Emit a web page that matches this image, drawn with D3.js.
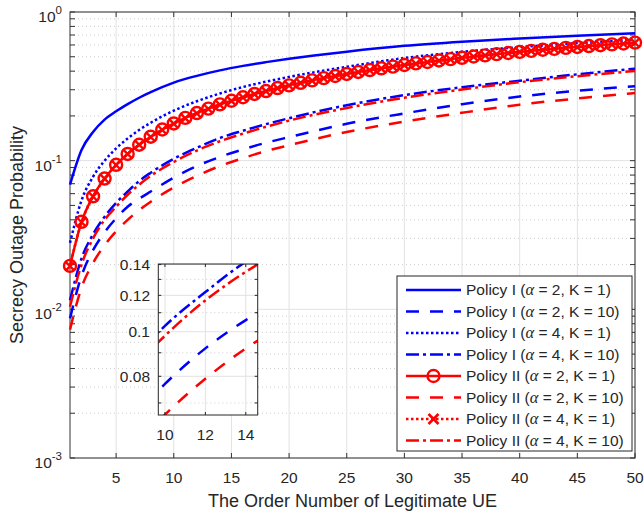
<!DOCTYPE html>
<html><head><meta charset="utf-8">
<script src="https://cdn.jsdelivr.net/npm/d3@7"></script>
<style>body{margin:0;background:#fff}</style>
</head><body>
<svg id="chart" width="644" height="515"></svg>
<script>
// ---- data ----
const xLine = [1,2,3,4,5,6,7,8,10,12,14,16,18,20,25,30,35,40,45,50];
const xMark = [1,2,3,4,5,6,7,8,9,10,11,12,13,14,15,16,17,18,19,20,21,22,23,24,25,26,27,28,29,30,31,32,33,34,35,36,37,38,39,40,41,42,43,44,45,46,47,48,49,50];
const policyI_a2_K1  = [0.069,0.118,0.156,0.189,0.215,0.240,0.265,0.289,0.335,0.372,0.405,0.434,0.460,0.485,0.541,0.592,0.631,0.663,0.692,0.719];
const policyI_a2_K10 = [0.0087,0.0168,0.025,0.033,0.041,0.049,0.0555,0.062,0.077,0.092,0.106,0.119,0.132,0.144,0.177,0.208,0.240,0.270,0.295,0.317];
const policyI_a4_K1  = [0.028,0.054,0.078,0.100,0.121,0.141,0.161,0.180,0.217,0.251,0.283,0.313,0.340,0.366,0.428,0.490,0.540,0.580,0.618,0.652];
const policyI_a4_K10 = [0.0115,0.022,0.032,0.042,0.052,0.062,0.073,0.083,0.103,0.122,0.142,0.159,0.176,0.193,0.236,0.276,0.312,0.345,0.381,0.416];
const policyII_a2_K1 = [0.0196,0.0388,0.0576,0.0758,0.0938,0.111,0.128,0.145,0.162,0.178,0.194,0.209,0.224,0.239,0.253,0.267,0.281,0.294,0.308,0.321,0.334,0.347,0.359,0.371,0.383,0.395,0.407,0.418,0.429,0.440,0.451,0.461,0.472,0.482,0.492,0.502,0.511,0.521,0.530,0.539,0.548,0.557,0.565,0.574,0.582,0.590,0.598,0.606,0.614,0.622];
const policyII_a2_K10 = [0.0073,0.0140,0.0205,0.027,0.0335,0.040,0.0465,0.053,0.066,0.079,0.092,0.104,0.116,0.127,0.156,0.183,0.210,0.238,0.262,0.285];
const policyII_a4_K1 = [0.0195,0.0386,0.0573,0.0755,0.0934,0.111,0.128,0.144,0.161,0.177,0.193,0.208,0.223,0.238,0.252,0.266,0.280,0.293,0.307,0.320,0.333,0.345,0.358,0.370,0.382,0.394,0.405,0.417,0.428,0.439,0.449,0.460,0.470,0.480,0.490,0.500,0.510,0.519,0.528,0.538,0.546,0.555,0.564,0.572,0.580,0.589,0.597,0.604,0.612,0.620];
const policyII_a4_K10 = [0.0104,0.020,0.030,0.040,0.049,0.059,0.069,0.079,0.098,0.117,0.135,0.152,0.169,0.186,0.226,0.265,0.301,0.337,0.370,0.401];

const xTicks = [5,10,15,20,25,30,35,40,45,50];
const yTickExps = [-3,-2,-1,0];
const insetXTicks = [10,12,14];
const insetYTicks = [0.08,0.1,0.12,0.14];
const insetYMinor = [0.07,0.09,0.11,0.13];
const legendPolicy = ["I","I","I","I","II","II","II","II"];
const legendAlpha = [2,2,4,4,2,2,4,4];
const legendK = [1,10,1,10,1,10,1,10];
const xLabel = "The Order Number of Legitimate UE";
const yLabel = "Secrecy Outage Probability";

// series styles
const BLUE = "#0000ff", RED = "#ff0000";
const series = [
  {x: xLine, y: policyI_a2_K1,  color: BLUE, dash: null,        marker: null},
  {x: xLine, y: policyI_a2_K10, color: BLUE, dash: "13,11",     marker: null},
  {x: xLine, y: policyI_a4_K1,  color: BLUE, dash: "2.5,2.5",   marker: null},
  {x: xLine, y: policyI_a4_K10, color: BLUE, dash: "13,4,3,4",  marker: null},
  {x: xMark, y: policyII_a2_K1, color: RED,  dash: null,        marker: "o"},
  {x: xLine, y: policyII_a2_K10,color: RED,  dash: "13,11",     marker: null},
  {x: xMark, y: policyII_a4_K1, color: RED,  dash: "2.5,2.5",   marker: "x"},
  {x: xLine, y: policyII_a4_K10,color: RED,  dash: "13,4,3,4",  marker: null}
];

const svg = d3.select("#chart");
const FONT = "'Liberation Sans', Arial, Helvetica, sans-serif";
const TXT = "#262626";
const L = 70, R = 635, T = 12, B = 458;
const LW = 2.5;

const x = d3.scaleLinear().domain([1,50]).range([L,R]);
const y = d3.scaleLog().domain([1e-3,1]).range([B,T]);

// grid
const g = svg.append("g");
const minorVals = [];
for (let e = -3; e < 0; e++) for (let m = 2; m <= 9; m++) minorVals.push(m*Math.pow(10,e));
g.selectAll("line.minor").data(minorVals).enter().append("line")
  .attr("x1",L).attr("x2",R).attr("y1",d=>y(d)).attr("y2",d=>y(d))
  .attr("stroke","#b8b8b8").attr("stroke-width",0.7).attr("stroke-dasharray","1,3");
g.selectAll("line.gx").data(xTicks).enter().append("line")
  .attr("x1",d=>x(d)).attr("x2",d=>x(d)).attr("y1",T).attr("y2",B)
  .attr("stroke","#e2e2e2").attr("stroke-width",1);
g.selectAll("line.gy").data(yTickExps).enter().append("line")
  .attr("x1",L).attr("x2",R).attr("y1",d=>y(Math.pow(10,d))).attr("y2",d=>y(Math.pow(10,d)))
  .attr("stroke","#e2e2e2").attr("stroke-width",1);

// axes box & ticks
const ax = svg.append("g");
ax.append("rect").attr("x",L).attr("y",T).attr("width",R-L).attr("height",B-T)
  .attr("fill","none").attr("stroke","#333").attr("stroke-width",1);
const TL = 5;
xTicks.forEach(t => {
  ax.append("line").attr("x1",x(t)).attr("x2",x(t)).attr("y1",B).attr("y2",B-TL).attr("stroke","#333");
  ax.append("line").attr("x1",x(t)).attr("x2",x(t)).attr("y1",T).attr("y2",T+TL).attr("stroke","#333");
  ax.append("text").attr("x",x(t)).attr("y",483).attr("text-anchor","middle")
    .attr("font-family",FONT).attr("font-size",15.5).attr("fill",TXT).text(t);
});
minorVals.concat(yTickExps.map(e=>Math.pow(10,e))).forEach(v => {
  ax.append("line").attr("x1",L).attr("x2",L+TL).attr("y1",y(v)).attr("y2",y(v)).attr("stroke","#333");
  ax.append("line").attr("x1",R).attr("x2",R-TL).attr("y1",y(v)).attr("y2",y(v)).attr("stroke","#333");
});
yTickExps.forEach(e => {
  const ty = y(Math.pow(10,e));
  const t = ax.append("text").attr("x",62).attr("y",ty+10).attr("text-anchor","end")
    .attr("font-family",FONT).attr("font-size",15.5).attr("fill",TXT);
  t.append("tspan").text("10");
  t.append("tspan").attr("dy",-8).attr("font-size",11.5).text(e === 0 ? "0" : ("-" + Math.abs(e)));
});

// labels
svg.append("text").attr("x",(L+R)/2).attr("y",507).attr("text-anchor","middle")
  .attr("font-family",FONT).attr("font-size",18).attr("fill",TXT).text(xLabel);
svg.append("text").attr("transform",`translate(23,${(T+B)/2}) rotate(-90)`).attr("text-anchor","middle")
  .attr("font-family",FONT).attr("font-size",18).attr("fill",TXT).text(yLabel);

// curves
function drawSeries(parent, xs, ys, clipId) {
  const line = d3.line().x(d=>xs(d[0])).y(d=>ys(d[1])).curve(d3.curveMonotoneX);
  const grp = parent.append("g");
  if (clipId) grp.attr("clip-path",`url(#${clipId})`);
  series.forEach(s => {
    const pts = s.x.map((v,i)=>[v,s.y[i]]);
    grp.append("path").attr("d",line(pts)).attr("fill","none")
      .attr("stroke",s.color).attr("stroke-width",LW)
      .attr("stroke-dasharray",s.dash).attr("stroke-linejoin","round");
    if (s.marker === "o") {
      grp.selectAll(null).data(pts).enter().append("circle")
        .attr("cx",d=>xs(d[0])).attr("cy",d=>ys(d[1])).attr("r",6)
        .attr("fill","none").attr("stroke",s.color).attr("stroke-width",2.4);
    } else if (s.marker === "x") {
      const h = 4.4;
      grp.selectAll(null).data(pts).enter().append("path")
        .attr("d",d=>{const cx=xs(d[0]), cy=ys(d[1]);
          return `M${cx-h},${cy-h}L${cx+h},${cy+h}M${cx-h},${cy+h}L${cx+h},${cy-h}`;})
        .attr("fill","none").attr("stroke",s.color).attr("stroke-width",2.4);
    }
  });
}
drawSeries(svg, x, y, null);

// inset
const IL = 158.3, IR = 257.7, IT = 264, IB = 415;
const xi = d3.scaleLinear().domain([9.67,14.59]).range([IL,IR]);
const yi = d3.scaleLog().domain([0.0659,0.1404]).range([IB,IT]);
svg.append("defs").append("clipPath").attr("id","insetClip")
  .append("rect").attr("x",IL).attr("y",IT).attr("width",IR-IL).attr("height",IB-IT);
const ins = svg.append("g");
ins.append("rect").attr("x",IL).attr("y",IT).attr("width",IR-IL).attr("height",IB-IT).attr("fill","#fff");
ins.selectAll(null).data(insetYMinor).enter().append("line")
  .attr("x1",IL).attr("x2",IR).attr("y1",d=>yi(d)).attr("y2",d=>yi(d))
  .attr("stroke","#b8b8b8").attr("stroke-width",0.7).attr("stroke-dasharray","1,3");
ins.selectAll(null).data(insetYTicks).enter().append("line")
  .attr("x1",IL).attr("x2",IR).attr("y1",d=>yi(d)).attr("y2",d=>yi(d))
  .attr("stroke","#e2e2e2").attr("stroke-width",1);
ins.selectAll(null).data(insetXTicks).enter().append("line")
  .attr("x1",d=>xi(d)).attr("x2",d=>xi(d)).attr("y1",IT).attr("y2",IB)
  .attr("stroke","#e2e2e2").attr("stroke-width",1);
drawSeries(ins, xi, yi, "insetClip");
ins.append("rect").attr("x",IL).attr("y",IT).attr("width",IR-IL).attr("height",IB-IT)
  .attr("fill","none").attr("stroke","#262626").attr("stroke-width",1);
insetXTicks.forEach(t => {
  ins.append("line").attr("x1",xi(t)).attr("x2",xi(t)).attr("y1",IB).attr("y2",IB-3).attr("stroke","#262626");
  ins.append("line").attr("x1",xi(t)).attr("x2",xi(t)).attr("y1",IT).attr("y2",IT+3).attr("stroke","#262626");
  ins.append("text").attr("x",xi(t)).attr("y",440).attr("text-anchor","middle")
    .attr("font-family",FONT).attr("font-size",15.5).attr("fill",TXT).text(t);
});
insetYTicks.concat(insetYMinor).forEach(t => {
  ins.append("line").attr("x1",IL).attr("x2",IL+3).attr("y1",yi(t)).attr("y2",yi(t)).attr("stroke","#262626");
  ins.append("line").attr("x1",IR).attr("x2",IR-3).attr("y1",yi(t)).attr("y2",yi(t)).attr("stroke","#262626");
});
insetYTicks.forEach(t => {
  ins.append("text").attr("x",150).attr("y",yi(t)+5.5).attr("text-anchor","end")
    .attr("font-family",FONT).attr("font-size",15.5).attr("fill",TXT).text(t);
});

// legend
const lg = svg.append("g");
const LX0 = 397, LX1 = 632, LY0 = 276, LY1 = 451;
lg.append("rect").attr("x",LX0).attr("y",LY0).attr("width",LX1-LX0).attr("height",LY1-LY0)
  .attr("fill","#fff").attr("stroke","#262626").attr("stroke-width",1);
series.forEach((s,i) => {
  const ry = 290 + i*21.5;
  lg.append("line").attr("x1",406).attr("x2",461).attr("y1",ry).attr("y2",ry)
    .attr("stroke",s.color).attr("stroke-width",LW).attr("stroke-dasharray",s.dash);
  const mx = 433.5;
  if (s.marker === "o") {
    lg.append("circle").attr("cx",mx).attr("cy",ry).attr("r",6).attr("fill","none")
      .attr("stroke",s.color).attr("stroke-width",2.4);
  } else if (s.marker === "x") {
    const h = 5;
    lg.append("path").attr("d",`M${mx-h},${ry-h}L${mx+h},${ry+h}M${mx-h},${ry+h}L${mx+h},${ry-h}`)
      .attr("stroke",s.color).attr("stroke-width",2.6);
  }
  const t = lg.append("text").attr("x",466).attr("y",ry+5.3)
    .attr("font-family",FONT).attr("font-size",15.5).attr("fill",TXT);
  t.append("tspan").text(`Policy ${legendPolicy[i]} (`);
  t.append("tspan").attr("font-family","'Liberation Serif', 'DejaVu Serif', serif").attr("font-style","italic").attr("font-size",16.5).text("α");
  t.append("tspan").text(` = ${legendAlpha[i]}, K = ${legendK[i]})`);
});
</script>
</body></html>
